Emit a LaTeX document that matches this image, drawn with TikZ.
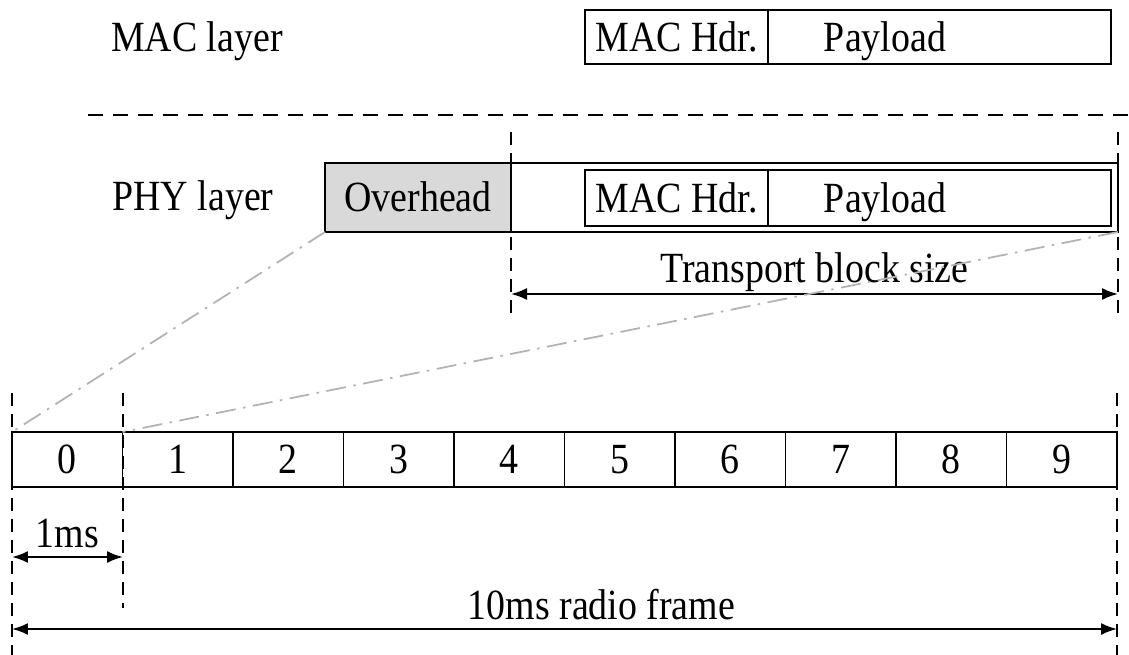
\documentclass[tikz,border=0pt]{standalone}
\usepackage{fontspec}
\setmainfont{Liberation Serif}[FakeStretch=0.88]
\usepackage{tikz}
\usetikzlibrary{positioning,calc,arrows.meta}

\begin{document}
\begin{tikzpicture}[x=0.02cm, y=-0.02cm,
  every node/.style={font=\fontsize{24.5pt}{29pt}\selectfont, outer sep=0pt, inner sep=0pt,
    text height=0.57cm, text depth=0cm},
  box/.style={draw, line width=1.1pt, minimum height=1.1cm},
  hdash/.style={line width=1pt, dash pattern=on 0.3cm off 0.2cm},
  vdash/.style={line width=1pt, dash pattern=on 0.26cm off 0.16cm},
  span/.style={line width=1.1pt, {Latex[length=0.32cm,width=0.24cm]}-{Latex[length=0.32cm,width=0.24cm]}},
  guide/.style={gray!60, line width=1pt, dash pattern=on 0.4cm off 0.15cm on 0.05cm off 0.15cm}]
  \useasboundingbox (0,0) rectangle (1129,655);

  % MAC layer
  \node (maclbl) at (197,37) {MAC layer};
  \node[box, minimum width=3.66cm, minimum height=1.08cm] (machdr) at (676.5,37) {MAC Hdr.};
  \node[box, minimum width=6.86cm, minimum height=1.08cm, right=0pt of machdr] (macpay) {};
  \node (macpaytxt) at ($(macpay.west)+(117,0)$) {Payload};

  \coordinate (sepl) at (88,115);
  \coordinate (sepr) at (1129,115);
  \draw[hdash] (sepl) -- (sepr);

  % PHY layer
  \node (phylbl) at (193,196) {PHY layer};
  \node[box, fill=gray!30, minimum width=3.72cm, minimum height=1.38cm] (ovh) at (418,197.5) {Overhead};
  \node[box, minimum width=12.14cm, minimum height=1.38cm, right=0pt of ovh] (tb) {};
  \node[box, minimum width=3.66cm, minimum height=1.12cm] (phyhdr) at (676.5,198) {MAC Hdr.};
  \node[box, minimum width=6.86cm, minimum height=1.12cm, right=0pt of phyhdr] (phypay) {};
  \node (phypaytxt) at ($(phypay.west)+(117,0)$) {Payload};

  \coordinate (tbtl) at (511,132);
  \coordinate (tbbl) at (511,320);
  \coordinate (tbtr) at (1118,132);
  \coordinate (tbbr) at (1118,320);
  \draw[vdash] (tbtl) -- (tbbl);
  \draw[vdash] (tbtr) -- (tbbr);

  \coordinate (tbsl) at (511,294);
  \coordinate (tbsr) at (1118,294);
  \draw[span] (tbsl) -- (tbsr) node[midway, yshift=0.52cm] (tblbl) {Transport block size};

  % radio frame
  \coordinate (f0t) at (12,393);
  \coordinate (f0b) at (12,655);
  \coordinate (f1t) at (123,393);
  \coordinate (f1b) at (123,608);
  \coordinate (f9t) at (1117,393);
  \coordinate (f9b) at (1117,655);
  \draw[vdash] (f0t) -- (f0b);
  \draw[vdash] (f1t) -- (f1b);
  \draw[vdash] (f9t) -- (f9b);

  \foreach \i in {0,...,9}
    \node[box, minimum width=2.21cm, minimum height=1.1cm] (c\i) at ({67.25+110.5*\i},459.5) {\i};

  \draw[guide] (ovh.south west) -- (c0.north west);
  \draw[guide] (tb.south east) -- (c1.north west);

  \coordinate (ms0) at (12,557);
  \coordinate (ms1) at (123,557);
  \draw[span] (ms0) -- (ms1) node[midway, yshift=0.48cm] (mslbl) {1ms};

  \coordinate (rf0) at (12,629);
  \coordinate (rf1) at (1117,629);
  \draw[span] (rf0) -- (rf1) node[midway, xshift=0.74cm, yshift=0.48cm] (rflbl) {10ms radio frame};
\end{tikzpicture}
\end{document}
